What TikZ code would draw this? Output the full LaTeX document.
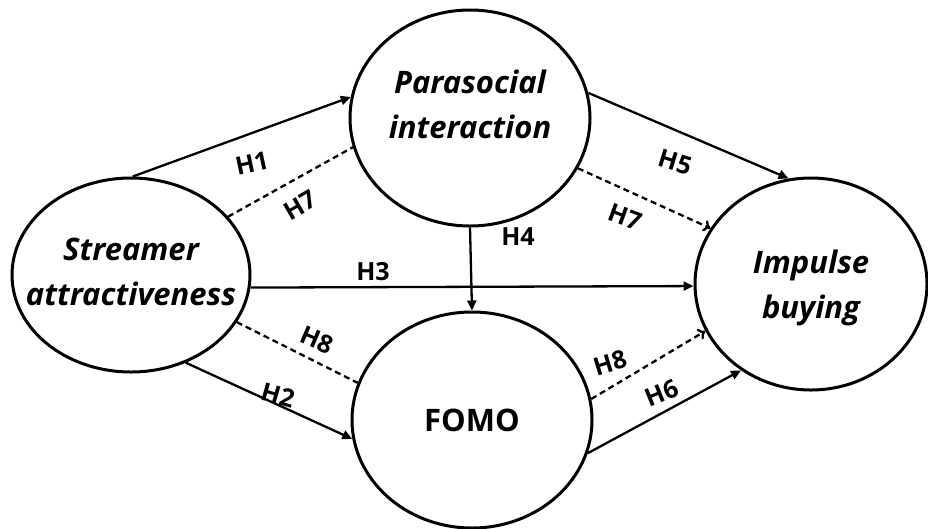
\documentclass[tikz,border=0pt]{standalone}
\usepackage{fontspec}
\setmainfont{Open Sans}
\usetikzlibrary{shapes.geometric,arrows.meta}
\begin{document}
\begin{tikzpicture}[x=1pt,y=-1pt,
  ell/.style={draw,ellipse,line width=3pt,inner sep=0pt},
  txt/.style={align=center,font=\bfseries\itshape\fontsize{31}{45}\selectfont},
  lab/.style={font=\bfseries\fontsize{25}{28}\selectfont,inner sep=0pt},
  sol/.style={line width=2.3pt,-{Triangle[length=10pt,width=9pt]}},
  dsh/.style={line width=2.3pt,dash pattern=on 6pt off 4pt},
  dsha/.style={line width=2.3pt,dash pattern=on 6pt off 4pt,-{To[length=7pt,width=12pt]}}]
\useasboundingbox (0,0) rectangle (928,528);
\fill[white] (0,0) rectangle (928,528);
% ellipses
\node[ell,minimum width=238pt,minimum height=194pt] (s) at (131,275) {};
\node[ell,minimum width=240pt,minimum height=216pt] (p) at (470,118) {};
\node[ell,minimum width=232pt,minimum height=212pt] (i) at (811,284) {};
\node[ell,minimum width=240pt,minimum height=216pt] (f) at (472,420) {};
% texts
\node[txt] (st) at (131,272) {Streamer\\attractiveness};
\node[txt] (pt) at (470,104) {Parasocial\\interaction};
\node[txt] (it) at (811,288) {Impulse\\buying};
\node[font=\bfseries\fontsize{31}{36}\selectfont] (ft) at (472,420) {FOMO};
% connectors
\draw[sol] (s.89) -- (p.170.5);
\draw[dsh] (s.31.7) -- (p.194);
\draw[sol] (s.-6) -- (i.181);
\draw[dsh] (s.-24.5) -- (f.162);
\draw[sol] (s.-58.6) -- (f.189.5);
\draw[sol] (p.south) -- (f.north);
\draw[sol] (p.12.5) -- (i.102);
\draw[dsha] (p.-25.7) -- (i.151);
\draw[dsha] (f.10.6) -- (i.204);
\draw[sol] (f.-16) -- (i.231.4);
% labels
\node[lab,rotate=12] (l1) at (252,163) {H1};
\node[lab,rotate=30] (l7a) at (300,205) {H7};
\node[lab] (l4) at (518,237) {H4};
\node[lab] (l3) at (373,272) {H3};
\node[lab,rotate=-17] (l5) at (675,162) {H5};
\node[lab,rotate=-20] (l7b) at (625,217) {H7};
\node[lab,rotate=-23] (l8a) at (317,340) {H8};
\node[lab,rotate=-16] (l2) at (278,395) {H2};
\node[lab,rotate=17] (l8b) at (610,363) {H8};
\node[lab,rotate=22] (l6) at (662,393) {H6};
\end{tikzpicture}
\end{document}
